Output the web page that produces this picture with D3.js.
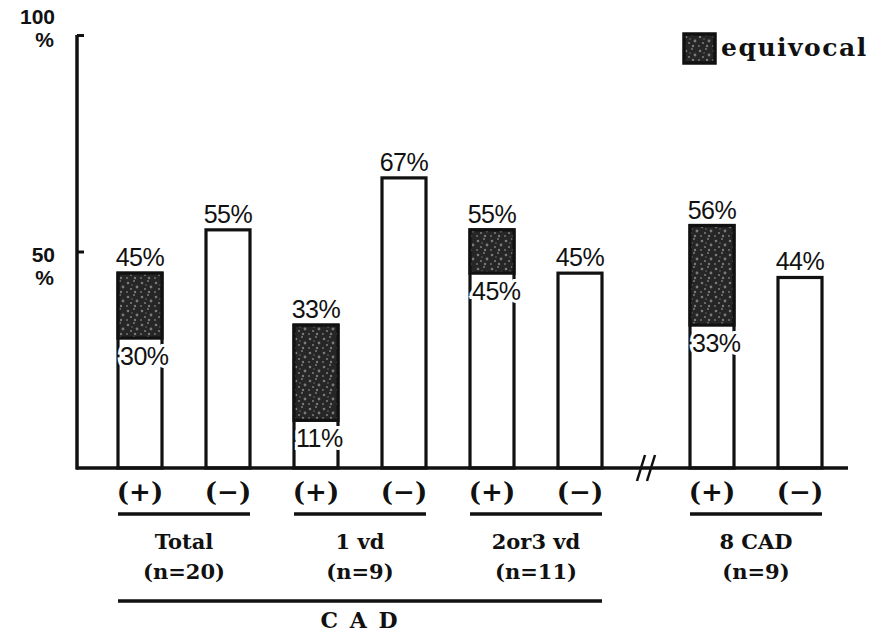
<!DOCTYPE html>
<html>
<head>
<meta charset="utf-8">
<script src="https://cdn.jsdelivr.net/npm/d3@7"></script>
<style>
  body { margin: 0; background: #fff; }
  svg { display: block; }
  .pct { font-family: "Liberation Sans", Arial, sans-serif; font-size: 25px; fill: #111; letter-spacing: -0.5px; }
  .lbl { font-family: "DejaVu Serif", serif; font-weight: bold; fill: #111; }
  .ylbl { font-family: "Liberation Sans", Arial, sans-serif; font-weight: bold; font-size: 21px; fill: #111; }
</style>
</head>
<body>
<svg></svg>
<script>
const groups = ['Total', '1 vd', '2or3 vd', '8 CAD'];
const groupN = ['(n=20)', '(n=9)', '(n=11)', '(n=9)'];
const signs = ['(+)', '(\u2212)'];
// (+) bars: whole height and the clear (definite) part under the equivocal block
const posTotal = [45, 33, 55, 56];
const posDefinite = [30, 11, 45, 33];
const negValues = [55, 67, 45, 44];
const yTicks = [50, 100];
const yTickLabels = ['50', '100'];

const w = 888;
const h = 636;
const base = 468;
const barW = 44;

const svg = d3.select('svg').attr('width', w).attr('height', h);

// stippled dark fill for the equivocal part
const defs = svg.append('defs');
const pat = defs.append('pattern')
  .attr('id', 'stip')
  .attr('patternUnits', 'userSpaceOnUse')
  .attr('width', 14).attr('height', 14);
pat.append('rect').attr('width', 14).attr('height', 14).attr('fill', '#262626');
[[2, 3, 1.3], [8, 1, 1], [11, 7, 1.4], [5, 9, 1.1], [1, 12, 0.9], [9, 12, 1.2], [6, 5, 0.7]]
  .forEach(([cx, cy, r]) => pat.append('circle').attr('cx', cx).attr('cy', cy).attr('r', r).attr('fill', '#7a7a7a'));

const y = d3.scaleLinear().domain([0, 100]).range([base, 35]);
// slot -> left edge of a bar; last group sits after the axis break
const x = d3.scaleLinear().domain([0, 1]).range([118, 206]);
const slot = (g, s) => g * 2 + s + (g === 3 ? 0.5 : 0);

const bars = [];
groups.forEach((g, i) => {
  bars.push({ g: i, s: 0, total: posTotal[i], def: posDefinite[i] });
  bars.push({ g: i, s: 1, total: negValues[i], def: null });
});

// bars
const bar = svg.selectAll('g.bar').data(bars).enter().append('g').attr('class', 'bar');

bar.append('rect')
  .attr('x', (d) => x(slot(d.g, d.s)))
  .attr('y', (d) => y(d.total))
  .attr('width', barW)
  .attr('height', (d) => base - y(d.total))
  .attr('fill', '#fff')
  .attr('stroke', '#111')
  .attr('stroke-width', 3.2);

bar.filter((d) => d.def !== null)
  .append('rect')
  .attr('x', (d) => x(slot(d.g, d.s)))
  .attr('y', (d) => y(d.total))
  .attr('width', barW)
  .attr('height', (d) => y(d.def) - y(d.total))
  .attr('fill', 'url(#stip)')
  .attr('stroke', '#111')
  .attr('stroke-width', 3.2);

bar.append('text')
  .attr('class', 'pct')
  .attr('x', (d) => x(slot(d.g, d.s)) + barW / 2)
  .attr('y', (d) => y(d.total) - 7)
  .attr('text-anchor', 'middle')
  .text((d) => `${d.total}%`);

bar.filter((d) => d.def !== null)
  .append('text')
  .attr('class', 'pct')
  .attr('x', (d) => x(slot(d.g, d.s)) + 2)
  .attr('y', (d) => y(d.def) + 27)
  .attr('stroke', '#fff')
  .attr('stroke-width', 6)
  .attr('paint-order', 'stroke')
  .text((d) => `${d.def}%`);

// y axis
const yAxis = svg.append('g')
  .attr('transform', 'translate(77,0)')
  .call(d3.axisLeft(y).tickValues(yTicks).tickSize(-7).tickSizeOuter(0).tickFormat(''));
yAxis.select('.domain').remove();
yAxis.selectAll('.tick line').attr('stroke', '#111').attr('stroke-width', 3);
svg.append('line')
  .attr('x1', 77).attr('x2', 77).attr('y1', base + 1.5).attr('y2', y(100))
  .attr('stroke', '#111').attr('stroke-width', 3.5);

yTicks.forEach((t, i) => {
  const top = t === 100;
  const lab = svg.append('text').attr('class', 'ylbl').attr('text-anchor', 'end');
  lab.append('tspan').attr('x', 55).attr('y', y(t) + (top ? -11 : 10)).text(yTickLabels[i]);
  lab.append('tspan').attr('x', 54).attr('y', y(t) + (top ? 12 : 33)).text('%');
});

// x axis with break
svg.append('line')
  .attr('x1', 76).attr('x2', 848).attr('y1', base).attr('y2', base)
  .attr('stroke', '#111').attr('stroke-width', 3.5);
const bx = (x(slot(2, 1)) + barW + x(slot(3, 0))) / 2;
[-5, 5].forEach((dx) => {
  svg.append('line')
    .attr('x1', bx + dx - 4).attr('x2', bx + dx + 4)
    .attr('y1', base + 13).attr('y2', base - 13)
    .attr('stroke', '#111').attr('stroke-width', 2.5);
});

// category labels
bar.append('text')
  .attr('class', 'lbl')
  .attr('x', (d) => x(slot(d.g, d.s)) + barW / 2)
  .attr('y', 501)
  .attr('text-anchor', 'middle')
  .style('font-size', '26px')
  .text((d) => signs[d.s]);

groups.forEach((g, i) => {
  const x0 = x(slot(i, 0));
  const x1 = x(slot(i, 1)) + barW;
  const cx = (x0 + x1) / 2;
  svg.append('line')
    .attr('x1', x0).attr('x2', x1).attr('y1', 514).attr('y2', 514)
    .attr('stroke', '#111').attr('stroke-width', 3.5);
  svg.append('text').attr('class', 'lbl')
    .attr('x', cx).attr('y', 549).attr('text-anchor', 'middle')
    .style('font-size', '21px')
    .text(g);
  svg.append('text').attr('class', 'lbl')
    .attr('x', cx).attr('y', 579).attr('text-anchor', 'middle')
    .style('font-size', '21px')
    .text(groupN[i]);
});

// CAD bracket
const c0 = x(slot(0, 0));
const c1 = x(slot(2, 1)) + barW;
svg.append('line')
  .attr('x1', c0).attr('x2', c1).attr('y1', 601).attr('y2', 601)
  .attr('stroke', '#111').attr('stroke-width', 3.5);
svg.append('text').attr('class', 'lbl')
  .attr('x', (c0 + c1) / 2).attr('y', 628).attr('text-anchor', 'middle')
  .style('font-size', '22px').style('letter-spacing', '2px')
  .text('C A D');

// legend
const leg = svg.append('g').attr('transform', 'translate(684,34)');
leg.append('rect')
  .attr('width', 31).attr('height', 29)
  .attr('fill', 'url(#stip)')
  .attr('stroke', '#111').attr('stroke-width', 3.5);
leg.append('text').attr('class', 'lbl')
  .attr('x', 37).attr('y', 22)
  .style('font-size', '25px').style('letter-spacing', '1.5px')
  .text('equivocal');
</script>
</body>
</html>
